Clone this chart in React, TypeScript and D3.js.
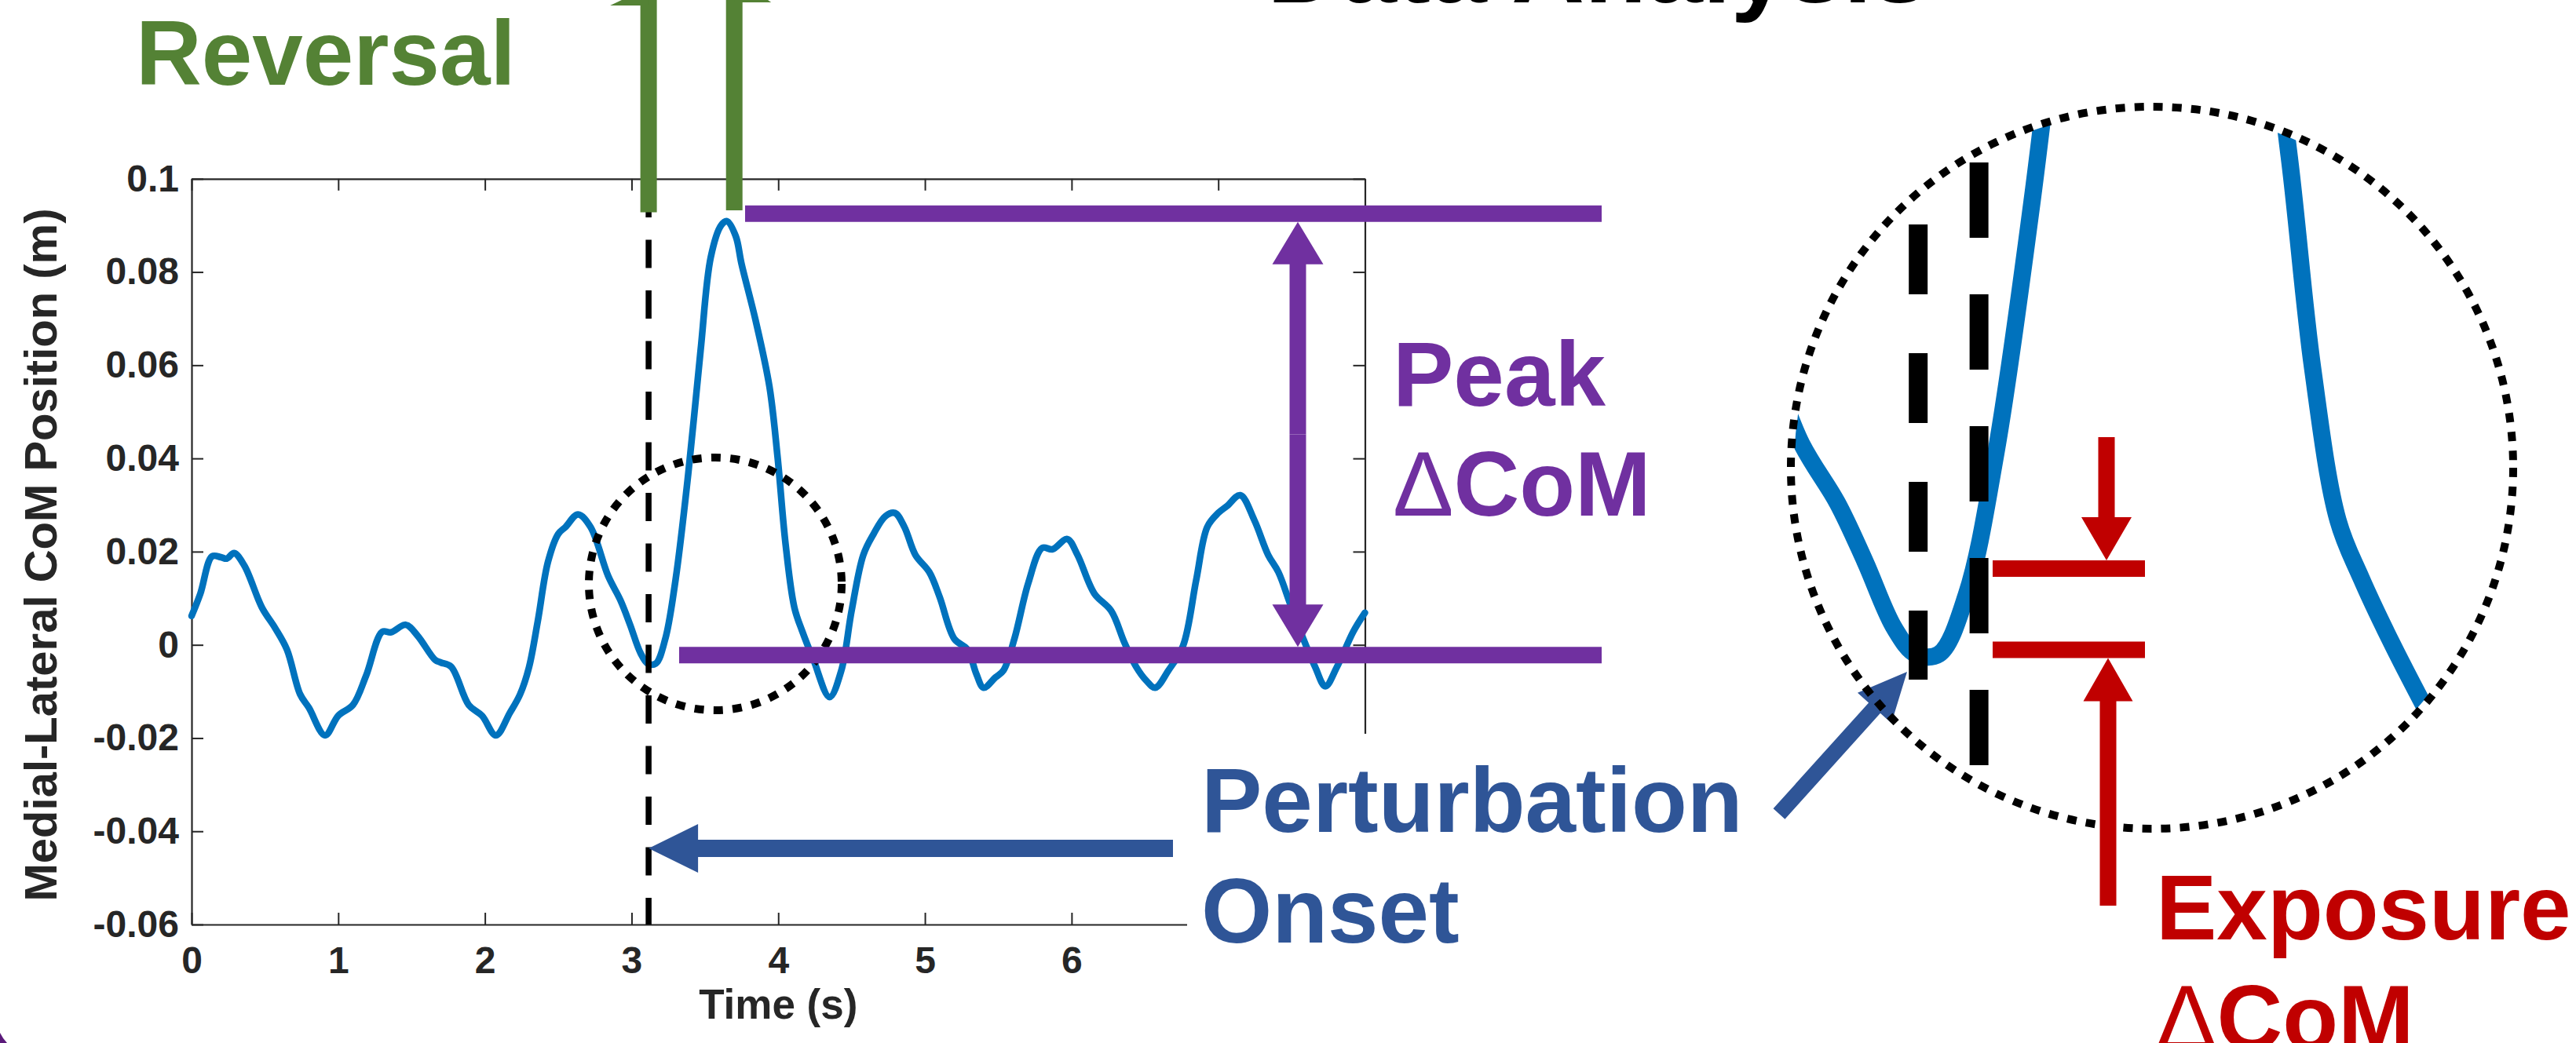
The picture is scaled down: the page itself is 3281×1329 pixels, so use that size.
import React, { useEffect, useRef } from "react";
import * as d3 from "d3";

// ---- data ----
const timeS = [
  0.0, 0.06, 0.14, 0.2, 0.24, 0.29, 0.36, 0.48, 0.57, 0.65, 0.74, 0.8, 0.91, 1.0, 1.1, 1.19, 1.3, 1.36,
  1.46, 1.54, 1.66, 1.7, 1.77, 1.89, 1.98, 2.075, 2.17, 2.24, 2.3, 2.36, 2.43, 2.5, 2.55, 2.635, 2.72,
  2.84, 2.925, 2.99, 3.06, 3.11, 3.165, 3.23, 3.3, 3.386, 3.47, 3.54, 3.61, 3.65, 3.71, 3.75, 3.845,
  3.94, 3.995, 4.05, 4.11, 4.165, 4.24, 4.35, 4.43, 4.5, 4.58, 4.65, 4.73, 4.795, 4.86, 4.935, 5.03,
  5.1, 5.2, 5.29, 5.35, 5.4, 5.48, 5.535, 5.61, 5.705, 5.8, 5.87, 5.97, 6.04, 6.155, 6.27, 6.36, 6.44,
  6.51, 6.57, 6.66, 6.76, 6.85, 6.925, 7.0, 7.06, 7.15, 7.245, 7.34, 7.41, 7.49, 7.58, 7.66, 7.73,
  7.81, 7.92, 8.0,
];
const comML = [
  0.0062, 0.011, 0.019, 0.0188, 0.0185, 0.0197, 0.017, 0.008, 0.0036, -0.001, -0.0106, -0.0135, -0.0194,
  -0.0152, -0.0129, -0.0066, 0.0028, 0.0027, 0.0043, 0.002, -0.0032, -0.0038, -0.0047, -0.0129, -0.0152,
  -0.0194, -0.0146, -0.0106, -0.0049, 0.005, 0.0178, 0.0238, 0.0253, 0.028, 0.0253, 0.0148, 0.0095,
  0.0043, -0.0017, -0.004, -0.004, 0.0013, 0.014, 0.0366, 0.063, 0.0832, 0.09, 0.0909, 0.0877, 0.0817,
  0.0697, 0.0554, 0.0404, 0.0216, 0.008, 0.0028, -0.0032, -0.0112, -0.0055, 0.0073, 0.0193, 0.0238,
  0.0276, 0.0283, 0.0253, 0.0193, 0.0156, 0.0103, 0.0013, -0.001, -0.0062, -0.0092, -0.007, -0.0055,
  0.0013, 0.0133, 0.0208, 0.0205, 0.0227, 0.0193, 0.011, 0.0073, 0.0005, -0.0047, -0.0077, -0.0092,
  -0.0055, -0.0002, 0.014, 0.0253, 0.0283, 0.0298, 0.0321, 0.0268, 0.0193, 0.0156, 0.0088, 0.0013,
  -0.0047, -0.0089, -0.0047, 0.0028, 0.0069,
];
const xTicks = [0, 1, 2, 3, 4, 5, 6, 7, 8];
const yTicks = [-0.06, -0.04, -0.02, 0, 0.02, 0.04, 0.06, 0.08, 0.1];
const onsetT = 3.116;
const reversalT = 3.7;
const exposureT = 3.26;
const peakLevel = 0.0925;
const baseLevel = -0.0022;
const exposureLevel = 0.00365;
const onsetLevel = -0.0036;

const W = 3281;
const H = 1329;
const FONT = "'Liberation Sans', Arial, Helvetica, sans-serif";
const AX = "#262626";
const BLUE = "#0072BD";
const GREEN = "#548235";
const PURPLE = "#7030A0";
const DBLUE = "#2F5597";
const RED = "#C00000";

const x = d3.scaleLinear().domain([0, 8]).range([244, 1738.5]);
const y = d3.scaleLinear().domain([-0.06, 0.1]).range([1178, 227.8]);
// magnified inset
const xi = d3.scaleLinear().domain([3, 4]).range([2380.8, 2918.6]);
const yi = d3.scaleLinear().domain([0, 0.04]).range([776.6, 206.6]);
const insetC = { cx: 2741, cy: 596, r: 460 };

const data = timeS.map((t, i) => ({ t, v: comML[i] }));

function arrowPoly(x1: number, y1: number, x2: number, y2: number, sw: number, hw: number, hl: number) {
  const dx = x2 - x1, dy = y2 - y1;
  const L = Math.hypot(dx, dy);
  const ux = dx / L, uy = dy / L;
  const nx = -uy, ny = ux;
  const bx = x2 - ux * hl, by = y2 - uy * hl;
  const p = [
    [x1 + nx * sw / 2, y1 + ny * sw / 2],
    [bx + nx * sw / 2, by + ny * sw / 2],
    [bx + nx * hw / 2, by + ny * hw / 2],
    [x2, y2],
    [bx - nx * hw / 2, by - ny * hw / 2],
    [bx - nx * sw / 2, by - ny * sw / 2],
    [x1 - nx * sw / 2, y1 - ny * sw / 2],
  ];
  return p.map((q) => q.join(",")).join(" ");
}

export default function App() {
  const axRef = useRef<SVGGElement>(null);

  useEffect(() => {
    const g = d3.select(axRef.current);
    g.selectAll("*").remove();
    const fmt = (d: any) => (d === 0 ? "0" : String(+d.toFixed(2)));
    const style = (s: any) => {
      s.attr("font-family", FONT).attr("font-size", 48).attr("font-weight", "bold");
      s.selectAll("path").attr("stroke", AX).attr("stroke-width", 2.2);
      s.selectAll("line").attr("stroke", AX).attr("stroke-width", 2);
      s.selectAll("text").attr("fill", AX);
    };
    g.append("g")
      .attr("transform", `translate(0,${y(-0.06)})`)
      .call(d3.axisBottom(x).tickValues(xTicks).tickSizeInner(-15).tickSizeOuter(0).tickPadding(28).tickFormat(d3.format("d") as any))
      .call(style);
    g.append("g")
      .attr("transform", `translate(${x(0)},0)`)
      .call(d3.axisLeft(y).tickValues(yTicks).tickSizeInner(-15).tickSizeOuter(0).tickPadding(16).tickFormat(fmt as any))
      .call(style);
    g.append("g")
      .attr("transform", `translate(0,${y(0.1)})`)
      .call(d3.axisTop(x).tickValues(xTicks).tickSizeInner(-15).tickSizeOuter(0).tickFormat(() => ""))
      .call(style);
    g.append("g")
      .attr("transform", `translate(${x(8)},0)`)
      .call(d3.axisRight(y).tickValues(yTicks).tickSizeInner(-15).tickSizeOuter(0).tickFormat(() => ""))
      .call(style);
  }, []);

  const line = d3
    .line<{ t: number; v: number }>()
    .x((d) => x(d.t))
    .y((d) => y(d.v))
    .curve(d3.curveCatmullRom.alpha(0.5));
  const lineInset = d3
    .line<{ t: number; v: number }>()
    .x((d) => xi(d.t))
    .y((d) => yi(d.v))
    .curve(d3.curveCatmullRom.alpha(0.5));
  const insetData = data.filter((d) => d.t >= 2.55 && d.t <= 4.4);

  const onX = x(onsetT);
  const revX = x(reversalT);
  const yPeak = y(peakLevel);
  const yBase = y(baseLevel);
  const yExp = yi(exposureLevel);
  const yOn = yi(onsetLevel);
  const arrowX = 1653;

  return (
    <svg width={W} height={H} style={{ position: "fixed", left: 0, top: 0, display: "block", background: "#fff" }}>
      <defs>
        <clipPath id="insetClip">
          <circle cx={insetC.cx} cy={insetC.cy} r={insetC.r - 4} />
        </clipPath>
      </defs>
      <rect x={0} y={0} width={W} height={H} fill="#fff" />

      {/* Title (cut off at top) */}
      <text x={1614} y={3} fontFamily={FONT} fontWeight="bold" fontSize={124} fill="#000" textLength={842} lengthAdjust="spacingAndGlyphs">
        Data Analysis
      </text>

      {/* axes */}
      <g ref={axRef} />
      <text x={x(4)} y={1298} textAnchor="middle" fontFamily={FONT} fontWeight="bold" fontSize={53} fill={AX}>
        Time (s)
      </text>
      <text transform={`translate(72,707) rotate(-90)`} textAnchor="middle" fontFamily={FONT} fontWeight="bold" fontSize={58} fill={AX}>
        Medial-Lateral CoM Position (m)
      </text>

      {/* white label box hiding lower right corner of the axes */}
      <rect x={1512} y={935} width={740} height={400} fill="#fff" />

      {/* data */}
      <path d={line(data) || ""} fill="none" stroke={BLUE} strokeWidth={8.5} strokeLinejoin="round" strokeLinecap="round" />

      {/* onset dashed line */}
      <line x1={onX} x2={onX} y1={241} y2={y(-0.06)} stroke="#000" strokeWidth={7.5} strokeDasharray="36 28.5" />

      {/* small dotted circle */}
      <circle cx={911} cy={744} r={161} fill="none" stroke="#000" strokeWidth={10} strokeDasharray="12 12.3" />

      {/* purple Peak ΔCoM */}
      <line x1={949} x2={2040} y1={yPeak} y2={yPeak} stroke={PURPLE} strokeWidth={21} />
      <line x1={865} x2={2040} y1={yBase} y2={yBase} stroke={PURPLE} strokeWidth={21} />
      <polygon
        points={arrowPoly(arrowX, (yPeak + yBase) / 2, arrowX, yPeak + 10.5, 21, 65, 54)}
        fill={PURPLE}
      />
      <polygon
        points={arrowPoly(arrowX, (yPeak + yBase) / 2, arrowX, yBase - 10.5, 21, 65, 54)}
        fill={PURPLE}
      />
      <text x={1774} y={517} fontFamily={FONT} fontWeight="bold" fontSize={116} fill={PURPLE}>
        Peak
      </text>
      <text x={1774} y={657} fontFamily={FONT} fontWeight="bold" fontSize={116} fill={PURPLE}>
        <tspan fontWeight="normal">Δ</tspan>CoM
      </text>

      {/* green reversal lines */}
      <line x1={onX} x2={onX} y1={0} y2={270.6} stroke={GREEN} strokeWidth={21} />
      <line x1={revX} x2={revX} y1={0} y2={268} stroke={GREEN} strokeWidth={21} />
      <polygon points={`${onX - 49},7 ${onX - 30},-2 ${onX},-2 ${onX},7`} fill={GREEN} />
      <polygon points={`${revX + 47},3 ${revX + 40},-2 ${revX},-2 ${revX},3`} fill={GREEN} />
      <text x={173} y={108} fontFamily={FONT} fontWeight="bold" fontSize={116} fill={GREEN}>
        Reversal
      </text>

      {/* perturbation onset */}
      <polygon points={arrowPoly(1494, 1081, onX, 1081, 22, 62, 63)} fill={DBLUE} />
      <polygon points={arrowPoly(2266, 1037, 2429, 856, 20, 58, 62)} fill={DBLUE} />
      <text x={1530} y={1060} fontFamily={FONT} fontWeight="bold" fontSize={116} fill={DBLUE}>
        Perturbation
      </text>
      <text x={1530} y={1201} fontFamily={FONT} fontWeight="bold" fontSize={116} fill={DBLUE}>
        Onset
      </text>

      {/* inset (magnified) */}
      <g clipPath="url(#insetClip)">
        <path d={lineInset(insetData) || ""} fill="none" stroke={BLUE} strokeWidth={22} strokeLinejoin="round" />
      </g>
      <line x1={xi(onsetT)} x2={xi(onsetT)} y1={286} y2={866} stroke="#000" strokeWidth={24} strokeDasharray="89 75" />
      <line x1={xi(exposureT)} x2={xi(exposureT)} y1={207} y2={976} stroke="#000" strokeWidth={24} strokeDasharray="96 72" />
      <circle cx={insetC.cx} cy={insetC.cy} r={insetC.r} fill="none" stroke="#000" strokeWidth={10} strokeDasharray="12 12.1" />

      {/* exposure ΔCoM */}
      <line x1={2538} x2={2732} y1={yExp} y2={yExp} stroke={RED} strokeWidth={21} />
      <line x1={2538} x2={2732} y1={yOn} y2={yOn} stroke={RED} strokeWidth={21} />
      <polygon points={arrowPoly(2683, 557, 2683, yExp - 10.5, 21, 64, 55)} fill={RED} />
      <polygon points={arrowPoly(2685, 1154, 2685, yOn + 10.5, 21, 63, 55)} fill={RED} />
      <text x={2746} y={1197} fontFamily={FONT} fontWeight="bold" fontSize={116} fill={RED}>
        Exposure
      </text>
      <text x={2746} y={1337} fontFamily={FONT} fontWeight="bold" fontSize={116} fill={RED}>
        <tspan fontWeight="normal">Δ</tspan>CoM
      </text>

      {/* slide frame corner */}
      <path d="M0,1316 Q4,1324 9,1329 L0,1329 Z" fill="#5B1A7A" />
    </svg>
  );
}
